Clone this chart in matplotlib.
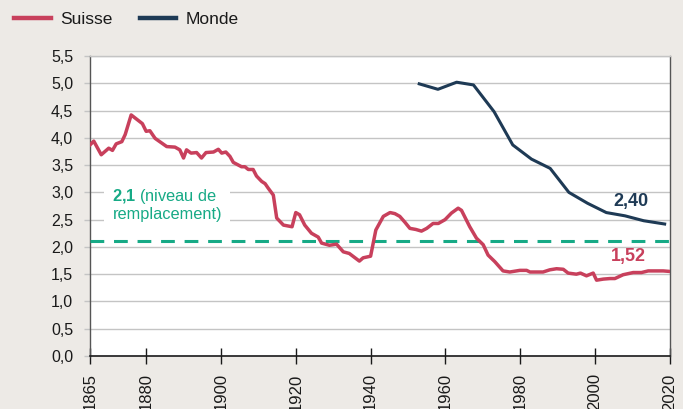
import matplotlib.pyplot as plt
from matplotlib.lines import Line2D
from matplotlib.ticker import FuncFormatter

# ==========================
# DATA
# ==========================

suisse_years = [1865, 1866, 1868, 1870, 1871, 1872, 1873.5, 1874.4, 1876, 1879,
                1880, 1881, 1882.4, 1885.5, 1887.7, 1889, 1890, 1890.8, 1892, 1893.5,
                1894.8, 1896, 1898, 1899.3, 1900.2, 1901.3, 1902.4, 1903.3, 1905.5, 1906.4,
                1907.3, 1908.6, 1909.5, 1910.9, 1911.8, 1912.6, 1914, 1914.9, 1916.7, 1919,
                1920, 1921, 1922.4, 1924.2, 1926, 1926.9, 1929, 1930.9, 1932.7, 1934.3,
                1937, 1938, 1940, 1941.4, 1943.4, 1945.2, 1946.5, 1947.8, 1949.2, 1950.5,
                1952.1, 1953.6, 1955, 1956.7, 1958.1, 1959.9, 1961.6, 1963.4, 1964.3, 1966.5,
                1968.3, 1970.1, 1971.4, 1973.2, 1975.4, 1977.2, 1979.9, 1981.7, 1982.6, 1986.1,
                1987.9, 1989.7, 1991.5, 1992.8, 1995, 1996.1, 1997.7, 1999.5, 2000.4, 2002.2,
                2004, 2005.3, 2007.5, 2010.2, 2012.4, 2014.2, 2018.2, 2020]
suisse_values = [3.87, 3.94, 3.69, 3.81, 3.77, 3.89, 3.93, 4.06, 4.42, 4.26,
                 4.12, 4.13, 3.99, 3.84, 3.83, 3.78, 3.63, 3.78, 3.72, 3.73,
                 3.63, 3.73, 3.74, 3.79, 3.72, 3.74, 3.66, 3.55, 3.47, 3.47,
                 3.42, 3.42, 3.30, 3.20, 3.16, 3.08, 2.95, 2.53, 2.40, 2.37,
                 2.63, 2.59, 2.40, 2.25, 2.18, 2.07, 2.03, 2.05, 1.91, 1.88,
                 1.74, 1.80, 1.83, 2.31, 2.56, 2.63, 2.61, 2.56, 2.45, 2.34,
                 2.32, 2.29, 2.34, 2.43, 2.43, 2.50, 2.62, 2.71, 2.67, 2.37,
                 2.16, 2.04, 1.85, 1.73, 1.56, 1.54, 1.57, 1.57, 1.54, 1.54,
                 1.58, 1.60, 1.59, 1.52, 1.50, 1.52, 1.47, 1.52, 1.39, 1.41,
                 1.42, 1.42, 1.49, 1.53, 1.53, 1.56, 1.56, 1.55]

monde_years = [1953, 1958, 1963, 1967.5, 1973, 1978, 1983, 1988, 1993, 1998,
               2003, 2008, 2013, 2018.6]
monde_values = [4.99, 4.89, 5.02, 4.97, 4.48, 3.87, 3.61, 3.44, 3.00, 2.80,
                2.63, 2.57, 2.48, 2.42]

remplacement = 2.1
x_ticks = [1865, 1880, 1900, 1920, 1940, 1960, 1980, 2000, 2020]
y_ticks = [0, 0.5, 1, 1.5, 2, 2.5, 3, 3.5, 4, 4.5, 5, 5.5]

# ==========================
# STYLE
# ==========================

bg = "#edeae6"
red = "#c8405c"
navy = "#1e3a55"
green = "#17aa86"
grid = "#c4c4c4"
ink = "#1a1a1a"

plt.rcParams["font.family"] = ["Liberation Sans", "DejaVu Sans"]
plt.rcParams["mathtext.fontset"] = "custom"
plt.rcParams["mathtext.rm"] = "Liberation Sans"
plt.rcParams["mathtext.bf"] = "Liberation Sans:bold"

fig = plt.figure(figsize=(6.83, 4.09), dpi=100, facecolor=bg)
ax = fig.add_axes([0.1318, 0.1296, 0.849, 0.7334])
ax.set_facecolor("white")

# ==========================
# LINES
# ==========================

ax.axhline(remplacement, color=green, lw=2.2, dashes=(4.5, 3.2), zorder=3)
ax.plot(suisse_years, suisse_values, color=red, lw=2.5, solid_joinstyle="round", zorder=4)
ax.plot(monde_years, monde_values, color=navy, lw=2.2, solid_joinstyle="round", zorder=4)

# ==========================
# AXES
# ==========================

ax.set_xlim(1865, 2020)
ax.set_ylim(0, 5.5)
ax.set_xticks(x_ticks)
ax.set_yticks(y_ticks)
ax.yaxis.set_major_formatter(FuncFormatter(lambda v, p: f"{v:.1f}".replace(".", ",")))
ax.grid(axis="y", color=grid, lw=1.0, zorder=1)
ax.set_axisbelow(True)

ax.tick_params(axis="x", direction="inout", length=11, width=1, color=ink,
               labelrotation=90, labelsize=12, pad=7, labelcolor=ink)
ax.tick_params(axis="y", direction="out", length=4, width=1, color=grid,
               labelsize=11.5, pad=8, labelcolor=ink)

for side in ["left", "right"]:
    ax.spines[side].set_color("#555555")
    ax.spines[side].set_linewidth(1.0)
ax.spines["bottom"].set_color(ink)
ax.spines["bottom"].set_linewidth(1.2)
ax.spines["top"].set_color(grid)
ax.spines["top"].set_linewidth(1.0)

# ==========================
# ANNOTATIONS
# ==========================

ax.text(1871, 2.78, r"$\mathbf{2{,}1}$ (niveau de" + "\nremplacement)",
        color=green, fontsize=11.8, ha="left", va="center", linespacing=1.1,
        bbox=dict(facecolor="white", edgecolor="none", pad=6), zorder=5)
ax.text(2009.6, 2.83, "2,40", color=navy, fontsize=13, fontweight="bold",
        ha="center", va="center", zorder=5)
ax.text(2008.8, 1.82, "1,52", color=red, fontsize=13, fontweight="bold",
        ha="center", va="center", zorder=5)

# ==========================
# LEGEND
# ==========================

handles = [Line2D([], [], color=red, lw=3.2), Line2D([], [], color=navy, lw=3.2)]
fig.legend(handles, ["Suisse", "Monde"], loc="center left", bbox_to_anchor=(-0.002, 0.953),
           ncol=2, frameon=False, fontsize=12.5, handlelength=2.1, handletextpad=0.55,
           columnspacing=1.55, labelcolor=ink)

fig.savefig("out.png", dpi=100, facecolor=bg)
